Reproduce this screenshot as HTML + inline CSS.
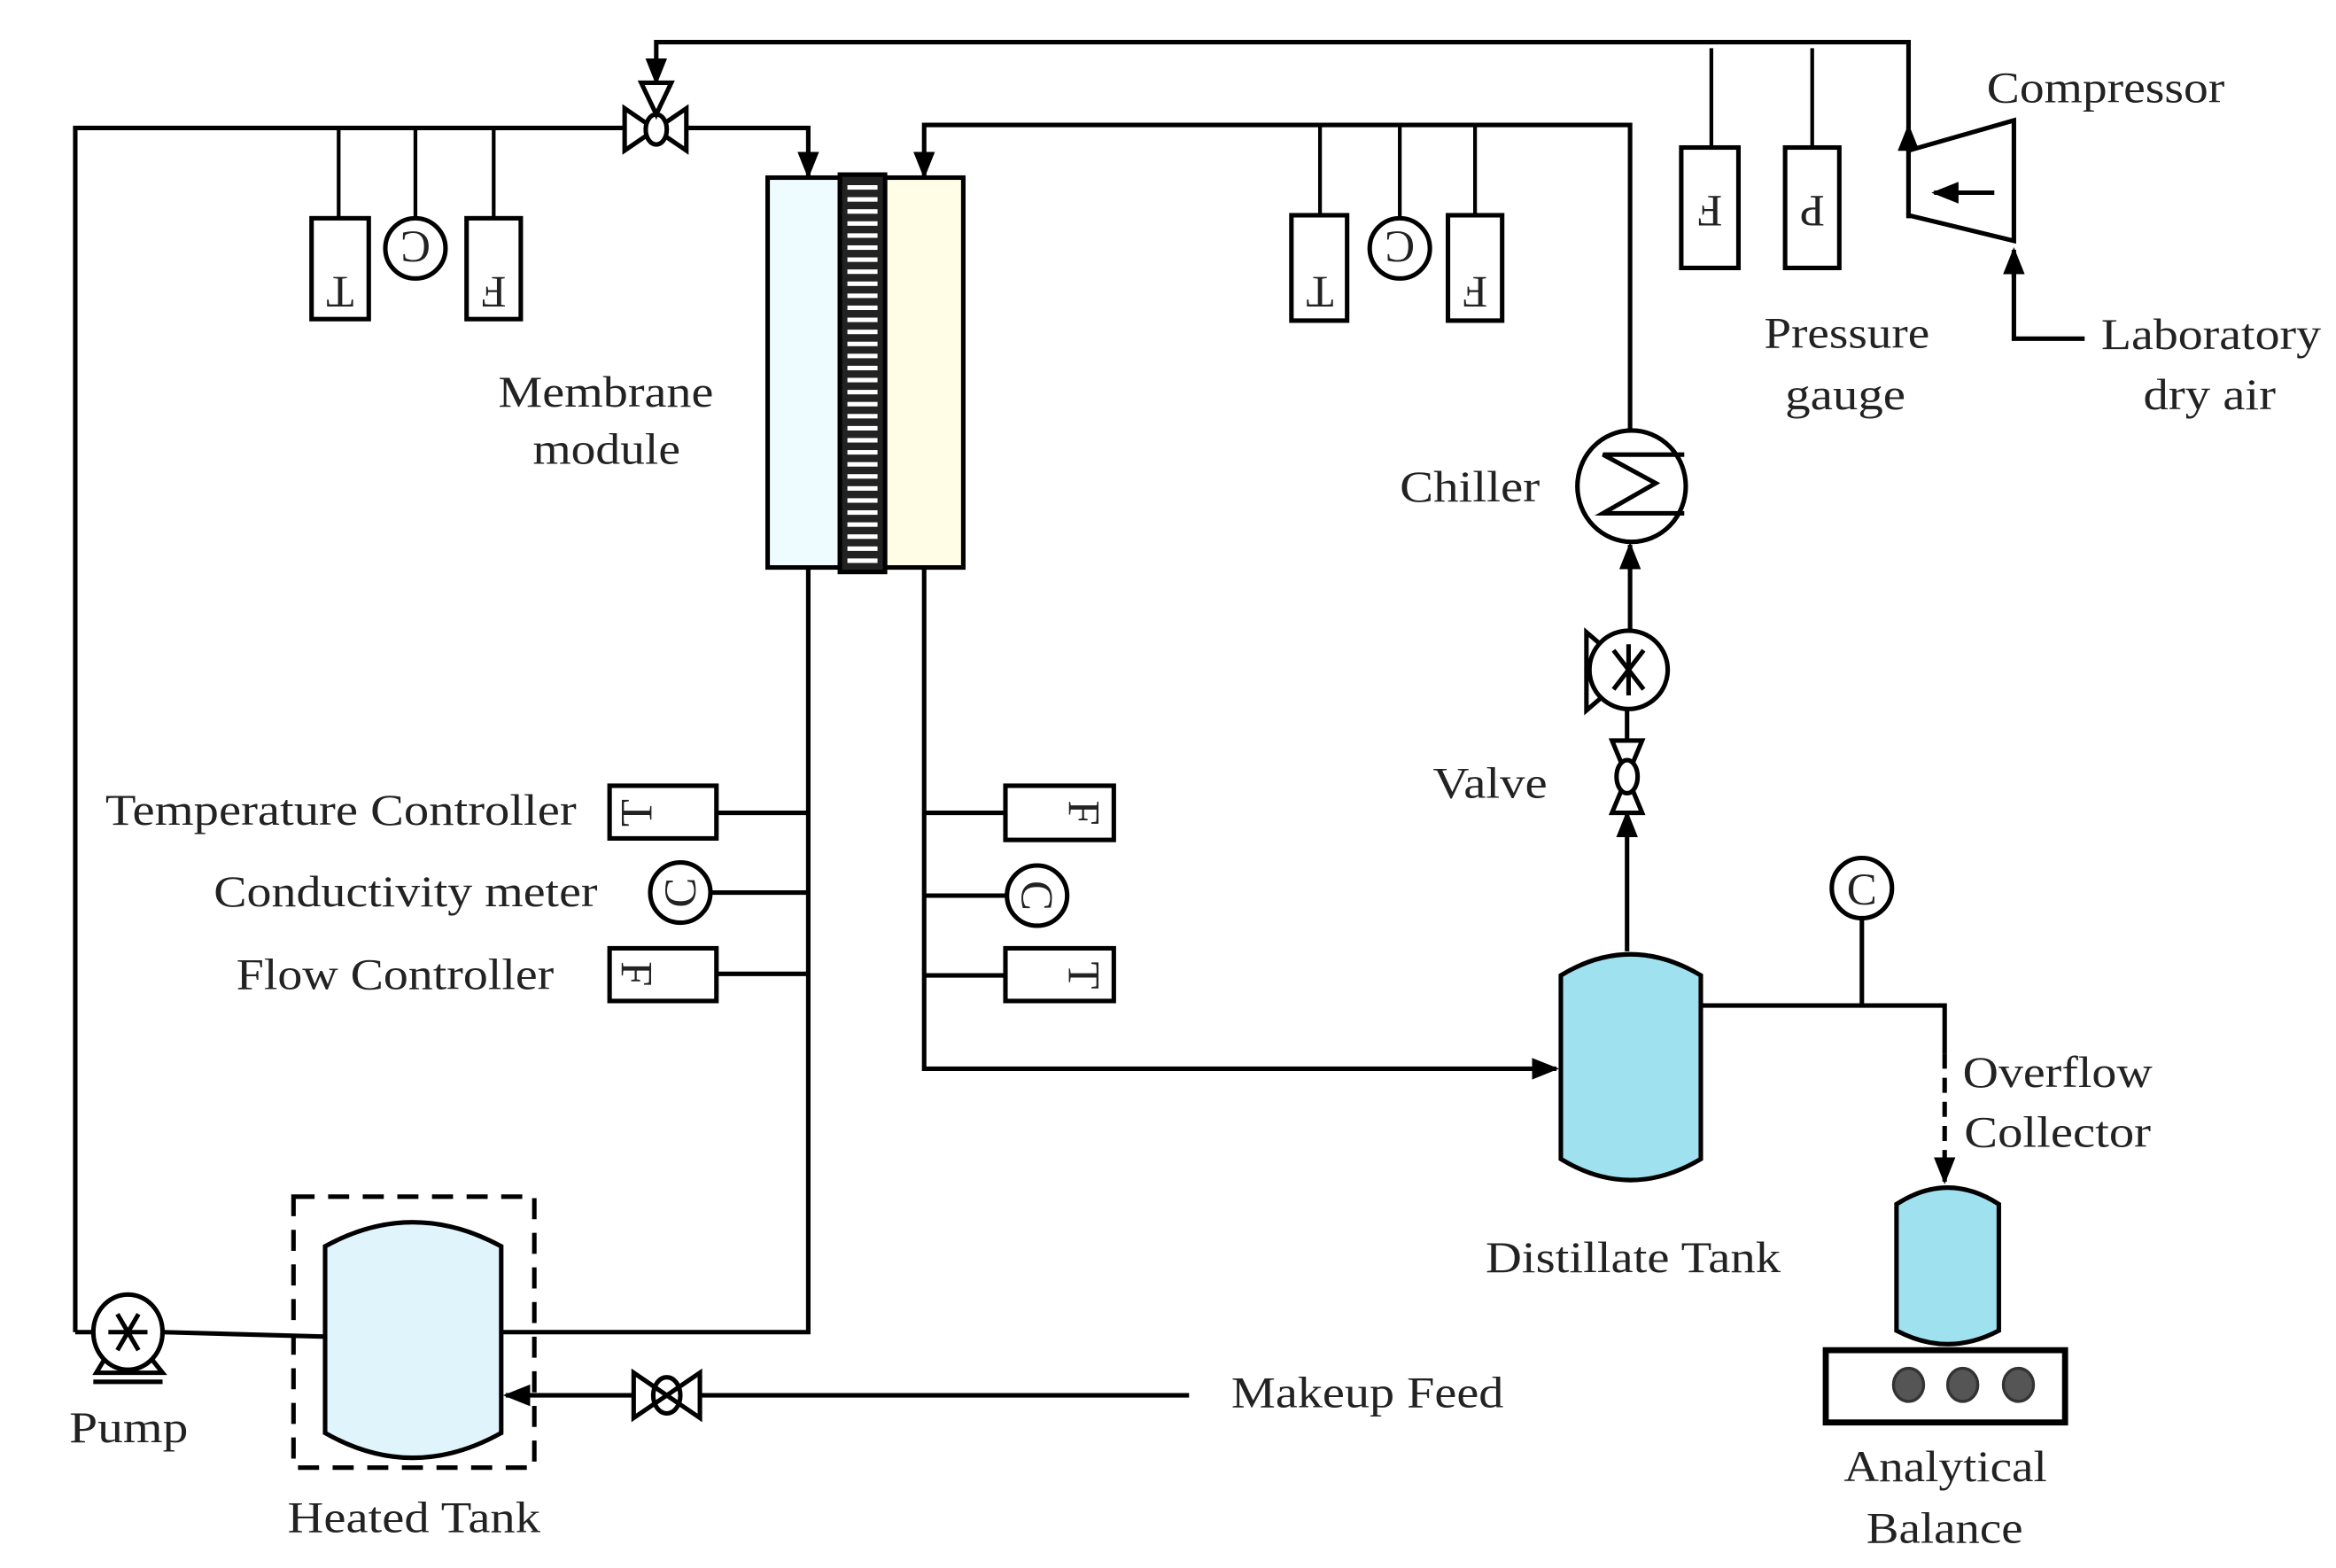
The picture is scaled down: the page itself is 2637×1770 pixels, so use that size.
<!DOCTYPE html>
<html><head><meta charset="utf-8"><style>
html,body{margin:0;padding:0;background:#fff}
svg{display:block}
text{font-family:"Liberation Serif","DejaVu Serif",serif;fill:#222}
</style></head><body>
<svg width="2637" height="1770" viewBox="0 0 1552 1041.7" preserveAspectRatio="none" xmlns="http://www.w3.org/2000/svg">
<defs>
<marker id="a" viewBox="0 0 10 10" refX="9" refY="5" markerWidth="6" markerHeight="6" orient="auto"><path d="M0,1 L10,5 L0,9 z" fill="#000"/></marker>
</defs>
<g fill="none" stroke="#000" stroke-width="3">
<polyline points="1268,145 1268,28 436,28 436,55" marker-end="url(#a)"/>
<line x1="1268" y1="100" x2="1268" y2="84" marker-end="url(#a)"/>
<polyline points="50,885 50,85 415,85"/>
<polyline points="456,85 537,85 537,117" marker-end="url(#a)"/>
<polyline points="1083,287 1083,83 614,83 614,117" marker-end="url(#a)"/>
<line x1="225" y1="85" x2="225" y2="145" stroke-width="2.5"/>
<line x1="276" y1="85" x2="276" y2="145" stroke-width="2.5"/>
<line x1="328" y1="85" x2="328" y2="145" stroke-width="2.5"/>
<line x1="877" y1="83" x2="877" y2="143" stroke-width="2.5"/>
<line x1="930" y1="83" x2="930" y2="145" stroke-width="2.5"/>
<line x1="980" y1="83" x2="980" y2="143" stroke-width="2.5"/>
<line x1="1137" y1="32" x2="1137" y2="98" stroke-width="2.5"/>
<line x1="1204" y1="32" x2="1204" y2="98" stroke-width="2.5"/>
<polyline points="537,377 537,885 332,885"/>
<polyline points="614,377 614,710 1034,710" marker-end="url(#a)"/>
<line x1="476" y1="540" x2="537" y2="540"/>
<line x1="472" y1="593" x2="537" y2="593"/>
<line x1="476" y1="647" x2="537" y2="647"/>
<line x1="614" y1="540" x2="668" y2="540"/>
<line x1="614" y1="595" x2="669" y2="595"/>
<line x1="614" y1="648" x2="668" y2="648"/>
<line x1="50" y1="885" x2="62" y2="885"/>
<line x1="108" y1="885" x2="216" y2="888"/>
<polyline points="790,927 465,927"/>
<line x1="421" y1="927" x2="336" y2="927" marker-end="url(#a)"/>
<line x1="1083" y1="418" x2="1083" y2="362" marker-end="url(#a)"/>
<line x1="1081" y1="472" x2="1081" y2="492"/>
<line x1="1081" y1="632" x2="1081" y2="540" marker-end="url(#a)"/>
<polyline points="1385,225 1338,225 1338,176"/>
<line x1="1338" y1="185" x2="1338" y2="166" marker-end="url(#a)"/>
<polyline points="1130,668 1292,668 1292,700"/>
<line x1="1292" y1="700" x2="1292" y2="785" stroke-dasharray="10,6" marker-end="url(#a)"/>
<line x1="1237" y1="610" x2="1237" y2="668"/>
</g>
<g stroke="#000" stroke-width="3" fill="#fff">
<path d="M415,72 L415,100 L456,72 L456,100 Z"/>
<ellipse cx="436" cy="86" rx="7" ry="10"/>
<path d="M426,55 L446,55 L436,76 Z"/>
</g>
<g stroke="#000" stroke-width="3" fill="#fff">
<rect x="207" y="145" width="38" height="67"/>
<circle cx="276" cy="165" r="20"/>
<rect x="310" y="145" width="36" height="67"/>
<rect x="858" y="143" width="37" height="70"/>
<circle cx="930" cy="165" r="20"/>
<rect x="962" y="143" width="36" height="70"/>
<rect x="1117" y="98" width="38" height="80"/>
<rect x="1186" y="98" width="36" height="80"/>
<rect x="405" y="522" width="71" height="35"/>
<circle cx="452" cy="593" r="20"/>
<rect x="405" y="630" width="71" height="35"/>
<rect x="668" y="522" width="72" height="36"/>
<circle cx="689" cy="595" r="20"/>
<rect x="668" y="630" width="72" height="35"/>
<circle cx="1237" cy="590" r="20"/>
</g>
<g font-size="30" text-anchor="middle">
<text transform="translate(226,184) rotate(180)">T</text>
<text transform="translate(276,154) rotate(180)">C</text>
<text transform="translate(328,184) scale(-1,-1)">F</text>
<text transform="translate(877,184) rotate(180)">T</text>
<text transform="translate(930,154) rotate(180)">C</text>
<text transform="translate(980,184) scale(-1,-1)">F</text>
<text transform="translate(1136,130) scale(-1,-1)">F</text>
<text transform="translate(1204,130) rotate(180)">P</text>
<text transform="translate(423,540) rotate(-90)" dy="10">T</text>
<text transform="translate(452,593) rotate(-90)" dy="10">C</text>
<text transform="translate(423,647) rotate(90)" dy="10">F</text>
<text transform="translate(720,540) rotate(90)" dy="10">F</text>
<text transform="translate(689,595) rotate(90)" dy="10">C</text>
<text transform="translate(720,648) rotate(90)" dy="10">T</text>
<text x="1237" y="601">C</text>
</g>
<g stroke="#000" stroke-width="3">
<rect x="510" y="118" width="48" height="259" fill="#eefcff"/>
<rect x="588" y="118" width="52" height="259" fill="#fffde6"/>
<rect x="558" y="116" width="30" height="264" fill="#222"/>
</g>
<g fill="#fff">
<rect x="563" y="123" width="20" height="3"/><rect x="563" y="131" width="20" height="3"/><rect x="563" y="139" width="20" height="3"/><rect x="563" y="147" width="20" height="3"/><rect x="563" y="155" width="20" height="3"/><rect x="563" y="163" width="20" height="3"/><rect x="563" y="171" width="20" height="3"/><rect x="563" y="179" width="20" height="3"/><rect x="563" y="187" width="20" height="3"/><rect x="563" y="195" width="20" height="3"/><rect x="563" y="203" width="20" height="3"/><rect x="563" y="211" width="20" height="3"/><rect x="563" y="219" width="20" height="3"/><rect x="563" y="227" width="20" height="3"/><rect x="563" y="235" width="20" height="3"/><rect x="563" y="243" width="20" height="3"/><rect x="563" y="251" width="20" height="3"/><rect x="563" y="259" width="20" height="3"/><rect x="563" y="267" width="20" height="3"/><rect x="563" y="275" width="20" height="3"/><rect x="563" y="283" width="20" height="3"/><rect x="563" y="291" width="20" height="3"/><rect x="563" y="299" width="20" height="3"/><rect x="563" y="307" width="20" height="3"/><rect x="563" y="315" width="20" height="3"/><rect x="563" y="323" width="20" height="3"/><rect x="563" y="331" width="20" height="3"/><rect x="563" y="339" width="20" height="3"/><rect x="563" y="347" width="20" height="3"/><rect x="563" y="355" width="20" height="3"/><rect x="563" y="363" width="20" height="3"/><rect x="563" y="371" width="20" height="3"/>
</g>
<g stroke="#000" stroke-width="3" fill="#fff">
<path d="M1268,100 L1338,80 L1338,160 L1268,143 Z"/>
<line x1="1325" y1="128" x2="1285" y2="128" marker-end="url(#a)"/>
</g>
<g stroke="#000" stroke-width="3" fill="#fff">
<ellipse cx="1084" cy="323" rx="36" ry="37"/>
<polyline points="1119,302 1065,302 1100,321 1065,341 1119,341" fill="none"/>
</g>
<g stroke="#000" stroke-width="3" fill="#fff">
<path d="M1054,420 L1068,432 L1068,460 L1054,472 Z"/>
<circle cx="1082" cy="445" r="26"/>
<path d="M1082,428 L1082,462 M1072,432 L1092,458 M1092,432 L1072,458" fill="none"/>
<path d="M1071,492 L1091,492 L1071,540 L1091,540 Z"/>
<ellipse cx="1081" cy="516" rx="7" ry="11"/>
</g>
<path d="M1037,648 Q1083,620 1130,648 L1130,770 Q1083,798 1037,770 Z" fill="#a0e1ef" stroke="#000" stroke-width="3"/>
<path d="M1260,800 Q1294,778 1328,800 L1328,884 Q1294,902 1260,884 Z" fill="#a0e1ef" stroke="#000" stroke-width="3"/>
<rect x="1213" y="897" width="159" height="48" fill="#fff" stroke="#000" stroke-width="4"/>
<g fill="#555" stroke="#333" stroke-width="2"><ellipse cx="1268" cy="920" rx="10" ry="11"/><ellipse cx="1304" cy="920" rx="10" ry="11"/><ellipse cx="1341" cy="920" rx="10" ry="11"/></g>
<rect x="195" y="795" width="160" height="180" fill="none" stroke="#000" stroke-width="3" stroke-dasharray="14,9"/>
<path d="M216,828 Q274,796 333,828 L333,952 Q274,985 216,952 Z" fill="#dff4fb" stroke="#000" stroke-width="3"/>
<g stroke="#000" stroke-width="3" fill="#fff">
<path d="M421,912 L421,942 L465,912 L465,942 Z"/>
<ellipse cx="443" cy="927" rx="9" ry="12" fill="none"/>
</g>
<g stroke="#000" stroke-width="3" fill="#fff">
<path d="M70,902 L64,912 L108,912 L100,902" fill="none"/>
<ellipse cx="85" cy="885" rx="23" ry="25"/>
<path d="M72,885 L98,885 M78,873 L92,897 M92,873 L78,897" fill="none"/>
<line x1="62" y1="918" x2="108" y2="918"/>
</g>
<g font-size="29">
<text x="1320" y="68" textLength="158" lengthAdjust="spacingAndGlyphs">Compressor</text>
<text x="1172" y="231" textLength="110" lengthAdjust="spacingAndGlyphs">Pressure</text>
<text x="1186" y="272" textLength="80" lengthAdjust="spacingAndGlyphs">gauge</text>
<text x="1396" y="232" textLength="146" lengthAdjust="spacingAndGlyphs">Laboratory</text>
<text x="1424" y="272" textLength="88" lengthAdjust="spacingAndGlyphs">dry air</text>
<text x="331" y="270" textLength="143" lengthAdjust="spacingAndGlyphs">Membrane</text>
<text x="354" y="308" textLength="98" lengthAdjust="spacingAndGlyphs">module</text>
<text x="930" y="333" textLength="93" lengthAdjust="spacingAndGlyphs">Chiller</text>
<text x="952" y="530" textLength="76" lengthAdjust="spacingAndGlyphs">Valve</text>
<text x="70" y="548" textLength="313" lengthAdjust="spacingAndGlyphs">Temperature Controller</text>
<text x="142" y="602" textLength="255" lengthAdjust="spacingAndGlyphs">Conductivity meter</text>
<text x="157" y="657" textLength="211" lengthAdjust="spacingAndGlyphs">Flow Controller</text>
<text x="1304" y="722" textLength="126" lengthAdjust="spacingAndGlyphs">Overflow</text>
<text x="1305" y="762" textLength="124" lengthAdjust="spacingAndGlyphs">Collector</text>
<text x="987" y="845" textLength="196" lengthAdjust="spacingAndGlyphs">Distillate Tank</text>
<text x="818" y="935" textLength="181" lengthAdjust="spacingAndGlyphs">Makeup Feed</text>
<text x="46" y="958" textLength="79" lengthAdjust="spacingAndGlyphs">Pump</text>
<text x="191" y="1018" textLength="168" lengthAdjust="spacingAndGlyphs">Heated Tank</text>
<text x="1225" y="984" textLength="135" lengthAdjust="spacingAndGlyphs">Analytical</text>
<text x="1240" y="1025" textLength="104" lengthAdjust="spacingAndGlyphs">Balance</text>
</g>
</svg>
</body></html>
